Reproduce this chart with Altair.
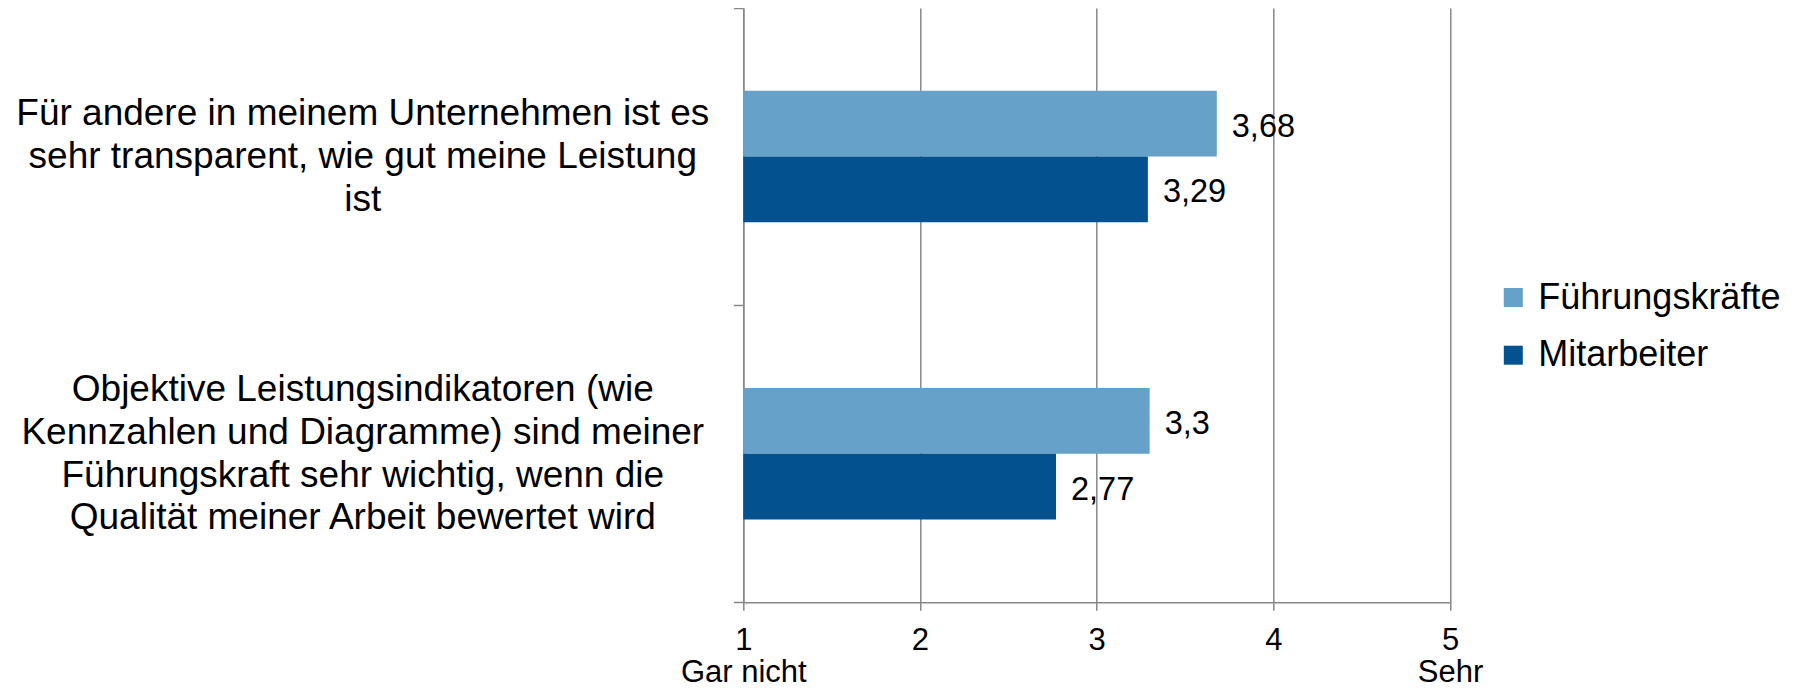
import json
import altair as alt
import pandas as pd

FONT = "Liberation Sans"

# ---- data ----
categories = [
    "Für andere in meinem Unternehmen ist es sehr transparent, wie gut meine Leistung ist",
    "Objektive Leistungsindikatoren (wie Kennzahlen und Diagramme) sind meiner Führungskraft sehr wichtig, wenn die Qualität meiner Arbeit bewertet wird",
]
category_lines = [
    ["Für andere in meinem Unternehmen ist es", "sehr transparent, wie gut meine Leistung", "ist"],
    ["Objektive Leistungsindikatoren (wie", "Kennzahlen und Diagramme) sind meiner",
     "Führungskraft sehr wichtig, wenn die", "Qualität meiner Arbeit bewertet wird"],
]
series = ["Führungskräfte", "Mitarbeiter"]
fuehrung_values = [3.68, 3.3]
mitarbeiter_values = [3.29, 2.77]
series_colors = ["#65A1C9", "#03528F"]
x_ticks = [1, 2, 3, 4, 5]
x_tick_extra = {1: "Gar nicht", 5: "Sehr"}

rows = []
for cat, vf, vm in zip(categories, fuehrung_values, mitarbeiter_values):
    for s, v in zip(series, [vf, vm]):
        rows.append({"category": cat, "series": s, "value": v,
                     "label": str(v).replace(".", ",")})
df = pd.DataFrame(rows)

Y_FS = 37
Y_LH = 42.8

# y label expression (multi-line, empty for the extra extent tick)
y_expr = "!isValid(datum.value) ? '' : "
for cat, lines in zip(categories[:-1], category_lines[:-1]):
    y_expr += f"datum.value == {json.dumps(cat, ensure_ascii=False)} ? {json.dumps(lines, ensure_ascii=False)} : "
y_expr += json.dumps(category_lines[-1], ensure_ascii=False)

# shift multi-line labels so the text block is centred on the band
y_label_offset = {
    "condition": {
        "test": f"datum.value == {json.dumps(categories[0], ensure_ascii=False)}",
        "value": -(len(category_lines[0]) - 1) * Y_LH / 2,
    },
    "value": -(len(category_lines[1]) - 1) * Y_LH / 2,
}

x_expr = ""
for k, extra in x_tick_extra.items():
    x_expr += f"datum.value == {k} ? [{json.dumps(str(k))}, {json.dumps(extra, ensure_ascii=False)}] : "
x_expr += "datum.label"

GRAY = "#888888"

# offset slots: empty slot above and below the two bars (Excel gap width)
offset_domain = ["_gap_top"] + series + ["_gap_bottom"]

base = alt.Chart(df).encode(
    y=alt.Y(
        "category:N",
        sort=categories,
        scale=alt.Scale(paddingInner=0, paddingOuter=0),
        axis=alt.Axis(
            title=None,
            labelExpr=y_expr,
            labelFont=FONT,
            labelFontSize=Y_FS,
            labelLineHeight=Y_LH,
            labelAlign="center",
            labelBaseline="middle",
            labelPadding=371,
            labelOffset=y_label_offset,
            labelLimit=2000,
            labelColor="black",
            tickSize=10,
            tickBand="extent",
            tickColor=GRAY,
            tickWidth=1.5,
            domainColor=GRAY,
            domainWidth=1.5,
            grid=False,
        ),
    ),
    yOffset=alt.YOffset(
        "series:N",
        scale=alt.Scale(domain=offset_domain, paddingInner=0, paddingOuter=0.258),
    ),
)

bars = base.mark_bar().encode(
    x=alt.X(
        "value:Q",
        scale=alt.Scale(domain=[1, 5], nice=False, zero=False),
        axis=alt.Axis(
            title=None,
            values=x_ticks,
            format="d",
            labelExpr=x_expr,
            labelFont=FONT,
            labelFontSize=31,
            labelLineHeight=32,
            labelPadding=15,
            labelColor="black",
            labelFlush=False,
            labelOverlap=False,
            tickSize=8,
            tickColor=GRAY,
            tickWidth=1.5,
            grid=True,
            gridColor=GRAY,
            gridWidth=1.5,
            domainColor=GRAY,
            domainWidth=1.5,
        ),
    ),
    x2=alt.datum(1),
    color=alt.Color(
        "series:N",
        sort=series,
        scale=alt.Scale(domain=series, range=series_colors),
        legend=alt.Legend(
            title=None,
            orient="none",
            legendX=752,
            legendY=271.5,
            symbolType="square",
            symbolSize=361,
            symbolStrokeWidth=0,
            labelFont=FONT,
            labelFontSize=36,
            labelColor="black",
            labelOffset=7,
            rowPadding=21.7,
            padding=0,
            labelLimit=1000,
        ),
    ),
)

labels = base.mark_text(
    align="left", baseline="middle", dx=15, dy=3, fontSize=32.5, font=FONT, color="black"
).encode(
    x=alt.X("value:Q"),
    text=alt.Text("label:N"),
)

chart = (
    (bars + labels)
    .properties(
        width=706.7,
        height=594.3,
        autosize=alt.AutoSizeParams(type="none"),
        padding={"left": 735.3, "top": 0, "right": 341, "bottom": 85.7},
    )
    .configure_view(stroke=None)
)

chart.save("out.html", embed_options={"renderer": "svg", "actions": False})
